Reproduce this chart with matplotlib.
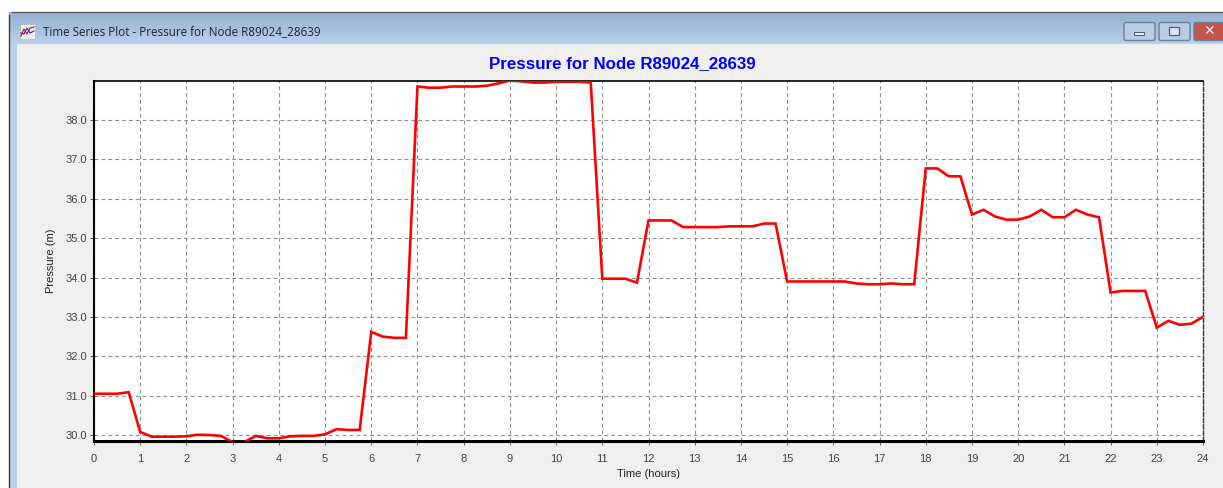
import numpy as np
import matplotlib
matplotlib.use('Agg')
import matplotlib.pyplot as plt
from matplotlib.patches import Rectangle, FancyBboxPatch
from matplotlib.colors import LinearSegmentedColormap

hours = [i * 0.25 for i in range(97)]
pressure = [
    31.05, 31.05, 31.05, 31.09, 30.08, 29.96, 29.96, 29.96,
    29.97, 30.01, 30.00, 29.98, 29.82, 29.82, 29.98, 29.92,
    29.92, 29.97, 29.98, 29.98, 30.02, 30.15, 30.13, 30.13,
    32.62, 32.50, 32.47, 32.47, 38.85, 38.82, 38.82, 38.85,
    38.85, 38.85, 38.87, 38.93, 39.00, 38.98, 38.95, 38.95,
    38.97, 38.97, 38.97, 38.95, 33.97, 33.97, 33.97, 33.87,
    35.45, 35.45, 35.45, 35.28, 35.28, 35.28, 35.28, 35.30,
    35.30, 35.30, 35.37, 35.37, 33.90, 33.90, 33.90, 33.90,
    33.90, 33.90, 33.85, 33.83, 33.83, 33.85, 33.83, 33.83,
    36.77, 36.77, 36.57, 36.57, 35.60, 35.72, 35.55, 35.47,
    35.47, 35.55, 35.72, 35.53, 35.53, 35.72, 35.60, 35.53,
    33.62, 33.66, 33.66, 33.66, 32.73, 32.90, 32.80, 32.83,
    33.00,
]
x_ticks = list(range(25))
y_ticks = [30.0, 31.0, 32.0, 33.0, 34.0, 35.0, 36.0, 37.0, 38.0]
chart_title = 'Pressure for Node R89024_28639'
window_title = 'Time Series Plot - Pressure for Node R89024_28639'

W, H = 1223, 488
plt.rcParams['font.family'] = ['Liberation Sans', 'DejaVu Sans']
fig = plt.figure(figsize=(W / 100, H / 100), dpi=100, facecolor='white')


# window chrome, drawn in pixel coordinates from the top left
bg = fig.add_axes([0, 0, 1, 1], zorder=0)
bar_cmap = LinearSegmentedColormap.from_list('bar', ['#95b1d2', '#b9d1ea'])
bg.imshow(np.linspace(0, 1, 32)[:, None], cmap=bar_cmap, aspect='auto',
          extent=(9, W, 44, 12), zorder=1)
bg.set_xlim(0, W)
bg.set_ylim(H, 0)
bg.axis('off')
bg.add_patch(Rectangle((10, 44), W - 10, H - 44, fc='#b9d1ea', ec='none', zorder=1))
bg.add_patch(Rectangle((17, 44), W - 17, H - 44, fc='#efefef', ec='none', zorder=2))
bg.plot([9, 9], [H, 15], color='#3a3a3a', lw=1.0, zorder=3)
bg.plot([12, W], [11.5, 11.5], color='#5a5a5a', lw=1.0, zorder=3)
bg.text(43, 31.5, window_title, fontsize=8.4, family=['Open Sans', 'DejaVu Sans'],
        color='#1c2530', va='center', ha='left', zorder=4)

# titlebar icon
bg.add_patch(Rectangle((20, 24), 15, 15, fc='#eeeeee', ec='#888888', lw=0.5, ls=':', zorder=3))
bg.plot([21, 24, 27, 30, 34], [36, 29, 34, 28, 27], color='#d02020', lw=0.9, zorder=4)
bg.plot([21, 24, 27, 30, 34], [33, 34, 28, 33, 31], color='#2030b0', lw=0.8, zorder=4)

# min / max / close buttons
for b_left, b_right, col in [(1124, 1155, '#b6cde6'), (1159, 1190, '#b6cde6'), (1194, 1226, '#c4544a')]:
    bg.add_patch(FancyBboxPatch((b_left, 22.5), b_right - b_left, 18, boxstyle='round,pad=0,rounding_size=2',
                                fc=col, ec='#6d7f96', lw=1, zorder=3))
bg.add_patch(Rectangle((1134, 31.5), 10, 3.5, fc='#e8eef5', ec='#4d5d72', lw=0.7, zorder=4))
bg.add_patch(Rectangle((1169, 27), 10, 8, fc='#dfe8f2', ec='#4d5d72', lw=0.9, zorder=4))
bg.text(1209, 31, '\u2715', fontsize=10, fontweight='bold', family=['DejaVu Sans'],
        color='#f2f2f2', ha='center', va='center', zorder=4)
bg.text(622, 64, chart_title, fontsize=12.2, fontweight='bold', color='#0000ff',
        ha='center', va='center', zorder=4)

# plot area
left, right, top, bottom = 94, 1203, 81, 441
ax = fig.add_axes([left / W, 1 - bottom / H, (right - left) / W, (bottom - top) / H], zorder=2)
ax.set_facecolor('white')

ax.plot(hours, pressure, color='#ff0000', lw=1.9, solid_joinstyle='miter', zorder=3)

ax.set_xlim(0, 24)
ax.set_ylim(29.85, 38.99)
ax.set_xticks(x_ticks)
ax.set_yticks(y_ticks)
ax.set_yticklabels([f'{v:.1f}' for v in y_ticks])
ax.grid(True, color='#909090', lw=0.8, dashes=(3.5, 2.7))
ax.set_axisbelow(True)
ax.tick_params(axis='both', labelsize=8, length=3, width=0.8, color='#666666',
               labelcolor='#444444', pad=2)
ax.tick_params(axis='x', pad=6)

ax.spines['left'].set_linewidth(1.5)
ax.spines['top'].set_linewidth(1.2)
ax.spines['bottom'].set_linewidth(2.2)
ax.spines['right'].set_linewidth(1.0)
ax.spines['right'].set_linestyle((0, (3, 1.5)))
ax.spines['right'].set_color('#333333')

ax.set_xlabel('Time (hours)', fontsize=8, color='#222222', labelpad=4)
ax.set_ylabel('Pressure (m)', fontsize=8, color='#222222', labelpad=7)

fig.savefig('out.png', dpi=100)
